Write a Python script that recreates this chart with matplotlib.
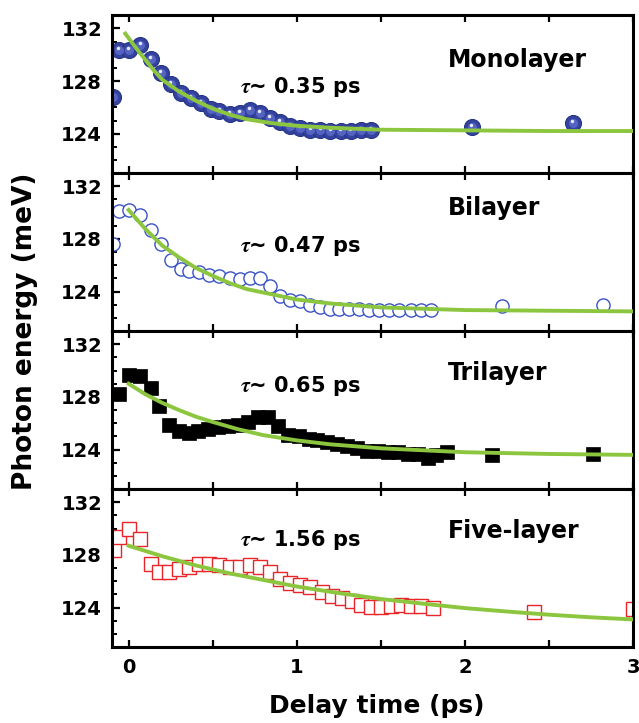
import matplotlib
matplotlib.use("Agg")
import matplotlib.pyplot as plt
from matplotlib.ticker import MultipleLocator
from matplotlib.transforms import ScaledTranslation

plt.rcParams['font.family'] = 'DejaVu Sans'
plt.rcParams['font.weight'] = 'bold'
plt.rcParams['mathtext.fontset'] = 'stix'

# monolayer (filled blue spheres)
mono_t = [-0.095, -0.06, 0.0, 0.07, 0.13, 0.19, 0.25, 0.31, 0.37, 0.43, 0.49, 0.54,
          0.60, 0.66, 0.72, 0.78, 0.84, 0.90, 0.96, 1.02, 1.08, 1.14, 1.20, 1.26,
          1.32, 1.38, 1.44, 2.04, 2.64]
mono_e = [126.8, 130.35, 130.35, 130.7, 129.7, 128.6, 127.8, 127.1, 126.7, 126.3,
          125.9, 125.7, 125.5, 125.6, 125.8, 125.6, 125.2, 124.9, 124.6, 124.4,
          124.3, 124.25, 124.2, 124.2, 124.2, 124.25, 124.3, 124.5, 124.8]

# bilayer (open blue circles)
bi_t = [-0.095, -0.06, 0.0, 0.065, 0.13, 0.19, 0.25, 0.31, 0.36, 0.42, 0.48, 0.54,
        0.60, 0.66, 0.72, 0.78, 0.84, 0.90, 0.96, 1.02, 1.08, 1.14, 1.20, 1.25,
        1.31, 1.37, 1.43, 1.49, 1.55, 1.61, 1.68, 1.74, 1.80, 2.22, 2.82]
bi_e = [127.6, 130.15, 130.2, 129.8, 128.7, 127.6, 126.4, 125.7, 125.6, 125.5,
        125.3, 125.2, 125.0, 124.95, 125.0, 125.0, 124.4, 123.7, 123.4, 123.3,
        123.0, 122.8, 122.7, 122.7, 122.65, 122.65, 122.6, 122.6, 122.6, 122.6,
        122.6, 122.6, 122.6, 122.9, 123.0]

# trilayer (filled black squares)
tri_t = [-0.06, 0.0, 0.065, 0.13, 0.18, 0.24, 0.30, 0.36, 0.41, 0.47, 0.53, 0.59,
         0.65, 0.71, 0.77, 0.83, 0.89, 0.95, 1.01, 1.07, 1.12, 1.18, 1.24, 1.30,
         1.36, 1.42, 1.48, 1.54, 1.60, 1.66, 1.72, 1.78, 1.83, 1.89, 2.16, 2.76]
tri_e = [128.2, 129.7, 129.6, 128.7, 127.3, 125.9, 125.4, 125.3, 125.4, 125.55,
         125.7, 125.8, 125.85, 126.1, 126.5, 126.5, 125.8, 125.1, 125.0, 124.8,
         124.7, 124.6, 124.4, 124.3, 124.1, 123.9, 123.9, 123.8, 123.8, 123.7,
         123.7, 123.4, 123.6, 123.8, 123.6, 123.7]

# five-layer (open red squares)
five_t = [-0.09, -0.06, 0.0, 0.065, 0.13, 0.18, 0.24, 0.30, 0.36, 0.42, 0.48, 0.54,
          0.60, 0.66, 0.72, 0.78, 0.84, 0.90, 0.96, 1.02, 1.08, 1.15, 1.21, 1.27,
          1.33, 1.38, 1.44, 1.50, 1.56, 1.62, 1.68, 1.74, 1.81, 2.41, 3.0]
five_e = [128.4, 129.4, 129.95, 129.2, 127.3, 126.7, 126.7, 126.9, 127.1, 127.3,
          127.3, 127.2, 127.1, 127.1, 127.2, 127.1, 126.7, 126.2, 125.9, 125.7,
          125.55, 125.2, 124.9, 124.7, 124.5, 124.2, 124.05, 124.05, 124.1, 124.2,
          124.1, 124.1, 124.0, 123.7, 123.9]

# fitted curves
fit1_t = [-0.02, 0.05, 0.10, 0.15, 0.20, 0.30, 0.40, 0.50, 0.60, 0.70, 0.85, 1.0,
          1.2, 1.5, 2.0, 2.5, 3.0]
fit1_e = [131.6, 130.4, 129.6, 128.8, 128.1, 127.2, 126.5, 125.9, 125.45, 125.1,
          124.8, 124.6, 124.45, 124.3, 124.25, 124.2, 124.2]
fit2_t = [0.0, 0.1, 0.2, 0.3, 0.4, 0.5, 0.6, 0.7, 0.85, 1.0, 1.2, 1.5, 2.0, 2.5, 3.0]
fit2_e = [130.2, 128.75, 127.5, 126.6, 125.8, 125.2, 124.65, 124.2, 123.8, 123.4,
          123.1, 122.8, 122.6, 122.55, 122.5]
fit3_t = [0.0, 0.1, 0.2, 0.3, 0.4, 0.5, 0.65, 0.8, 1.0, 1.2, 1.5, 2.0, 2.5, 3.0]
fit3_e = [129.0, 128.2, 127.55, 127.0, 126.5, 126.1, 125.55, 125.1, 124.7, 124.4,
          124.1, 123.8, 123.67, 123.6]
fit4_t = [0.0, 0.2, 0.4, 0.6, 0.8, 1.0, 1.25, 1.5, 1.75, 2.0, 2.25, 2.5, 2.75, 3.0]
fit4_e = [128.7, 127.9, 127.2, 126.6, 126.1, 125.6, 125.1, 124.65, 124.3, 123.96,
          123.7, 123.46, 123.26, 123.1]

names = ['Monolayer', 'Bilayer', 'Trilayer', 'Five-layer']
taus = ['0.35', '0.47', '0.65', '1.56']
name_y = [129.1, 129.8, 129.3, 129.3]
tau_y = [127.1, 127.0, 128.4, 128.7]

green = '#8cc63f'

fig = plt.figure(figsize=(6.39, 7.23), dpi=100)
gs = fig.add_gridspec(4, 1, left=0.175, right=0.991, bottom=0.105, top=0.979, hspace=0)
axes = gs.subplots(sharex=True)

ax = axes[0]
ax.plot(mono_t, mono_e, 'o', ms=11.5, mfc='#34439e', mec='#26338a', mew=0.8, zorder=2)
ax.plot(mono_t, mono_e, 'o', ms=6.5, mfc='#5564c2', mec='none', zorder=2.1)
hl = ax.transData + ScaledTranslation(-0.5 / 72, 1.5 / 72, fig.dpi_scale_trans)
ax.plot(mono_t, mono_e, 'o', ms=2.5, mfc='#e6e8f8', mec='none', transform=hl, zorder=2.2)
ax.plot(fit1_t, fit1_e, color=green, lw=2.8, zorder=3)

ax = axes[1]
ax.plot(bi_t, bi_e, 'o', ms=9.5, mfc='white', mec='#3a52c4', mew=1.0, zorder=2)
ax.plot(fit2_t, fit2_e, color=green, lw=2.8, zorder=3)

ax = axes[2]
ax.plot(tri_t, tri_e, 's', ms=9.5, mfc='black', mec='black', mew=0.5, zorder=2)
ax.plot(fit3_t, fit3_e, color=green, lw=2.8, zorder=3)

ax = axes[3]
ax.plot(five_t, five_e, 's', ms=10, mfc='white', mec='#e8262a', mew=1.0, zorder=2)
ax.plot(fit4_t, fit4_e, color=green, lw=2.8, zorder=3)

for i, ax in enumerate(axes):
    ax.set_xlim(-0.1, 3.0)
    ax.set_ylim(121, 133)
    ax.yaxis.set_major_locator(MultipleLocator(4))
    ax.yaxis.set_minor_locator(MultipleLocator(1))
    ax.xaxis.set_major_locator(MultipleLocator(1))
    ax.xaxis.set_minor_locator(MultipleLocator(0.5))
    ax.tick_params(axis='x', which='both', direction='in', top=True, bottom=True,
                   length=5, width=1.6, labelsize=14, pad=8)
    ax.tick_params(axis='y', which='major', direction='in', left=True, right=False,
                   length=6, width=1.6, labelsize=14, pad=7)
    ax.tick_params(axis='y', which='minor', direction='in', left=True, right=False,
                   length=3.5, width=1.4)
    for s in ax.spines.values():
        s.set_linewidth(2.2)
    ax.text(1.90, name_y[i], names[i], fontsize=17, fontweight='bold', va='baseline')
    ax.text(0.66, tau_y[i], r'$\tau$~ ' + taus[i] + ' ps', fontsize=15,
            fontweight='bold', va='baseline')

fig.text(0.039, 0.542, 'Photon energy (meV)', rotation=90, fontsize=19,
         fontweight='bold', ha='center', va='center')
fig.text(0.59, 0.014, 'Delay time (ps)', fontsize=18, fontweight='bold',
         ha='center', va='baseline')

fig.savefig('out.png', dpi=100)
